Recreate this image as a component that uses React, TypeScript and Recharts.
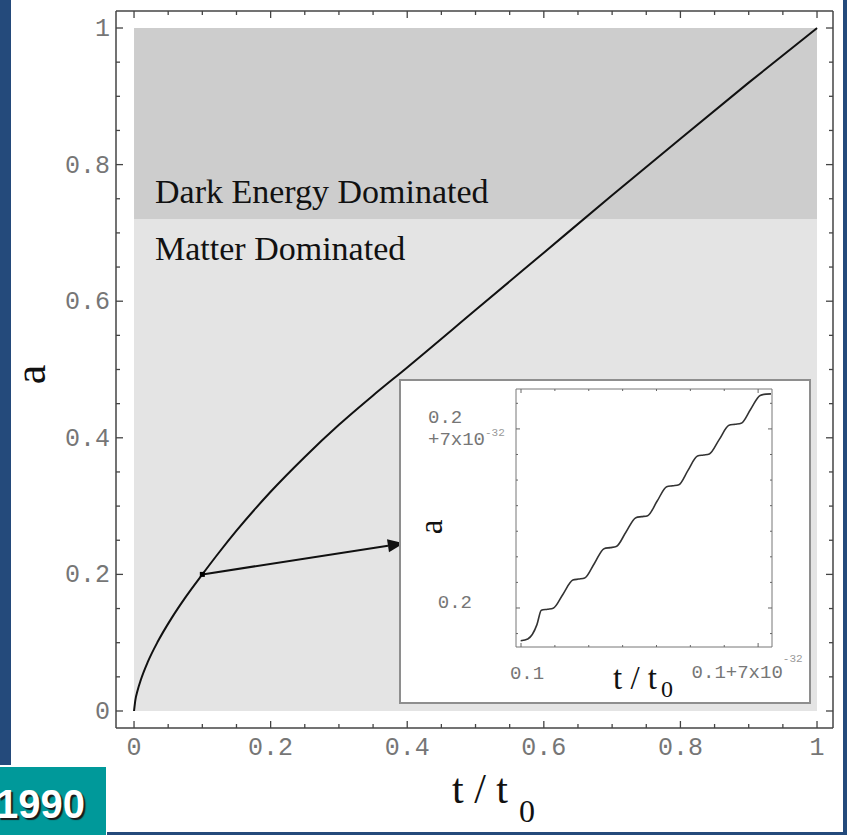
import React from "react";
import {
  LineChart,
  Line,
  XAxis,
  YAxis,
  ReferenceArea,
  ReferenceLine,
  ReferenceDot,
  Label
} from "recharts";

// scale factor a versus t/t0
const mainT = [0, 0.002, 0.005, 0.01, 0.02, 0.035, 0.055, 0.075, 0.1, 0.125, 0.15, 0.2, 0.25, 0.3, 0.35, 0.4, 0.5, 0.6, 0.7, 0.8, 0.9, 1];
const mainA = [0, 0.0164, 0.0294, 0.0458, 0.0715, 0.102, 0.136, 0.166, 0.2, 0.2328, 0.264, 0.321, 0.372, 0.419, 0.462, 0.503, 0.587, 0.671, 0.755, 0.838, 0.92, 1];

// inset: offsets from t/t0 = 0.1 and a = 0.2, in units of 1e-32
const insetT = [-0.01, 0.2, 0.47, 0.6, 0.78, 0.95, 1.24, 1.53, 1.7, 1.88, 2.17, 2.45, 2.63, 2.81, 3.1, 3.39, 3.56, 3.74, 4.02, 4.3, 4.48, 4.66, 4.93, 5.21, 5.39, 5.56, 5.85, 6.14, 6.32, 6.5, 6.78, 7.06, 7.24, 7.38];
const insetA = [-1.28, -1.21, -0.65, -0.09, -0.05, -0.01, 0.54, 1.09, 1.13, 1.17, 1.75, 2.32, 2.36, 2.4, 2.97, 3.53, 3.57, 3.61, 4.18, 4.74, 4.78, 4.82, 5.38, 5.94, 5.98, 6.02, 6.58, 7.14, 7.18, 7.22, 7.77, 8.31, 8.36, 8.37];

const frameTicks = [0, 0.05, 0.1, 0.15, 0.2, 0.25, 0.3, 0.35, 0.4, 0.45, 0.5, 0.55, 0.6, 0.65, 0.7, 0.75, 0.8, 0.85, 0.9, 0.95, 1];
const majorTicks = [0, 0.2, 0.4, 0.6, 0.8, 1];
const majorLabels = ["0", "0.2", "0.4", "0.6", "0.8", "1"];

const insetTicksX = [0, 1, 2, 3, 4, 5, 6, 7];
const insetTicksY = [-1, 0, 1, 2, 3, 4, 5, 6, 7, 8];

const matterBand = [0, 0.72];
const darkBand = [0.72, 1];
const zoomPoint = [0.1, 0.2];
const arrowTip = [0.395, 0.2455];

const mainData = mainT.map((t, i) => ({ t, a: mainA[i] }));
const insetData = insetT.map((t, i) => ({ t, a: insetA[i] }));

const FRAME = "#444";
const MONO = "'Liberation Mono', 'DejaVu Sans Mono', monospace";
const SERIF = "'Liberation Serif', 'Times New Roman', serif";
const TICK_TEXT = "#767676";

// plot box heights, used to mirror the bottom ticks onto the top frame
const MAIN_PLOT_H = 717;
const INSET_PLOT_H = 258;

const majorIndex = (v: number) => majorTicks.findIndex((m) => Math.abs(m - v) < 1e-9);

const BottomTick = ({ x, y, payload }: any) => {
  const i = majorIndex(payload.value);
  const len = i >= 0 ? 7 : 4;
  const top = y - MAIN_PLOT_H;
  return (
    <g>
      <line x1={x} x2={x} y1={y} y2={y - len} stroke={FRAME} strokeWidth={1.3} />
      <line x1={x} x2={x} y1={top} y2={top + len} stroke={FRAME} strokeWidth={1.3} />
      {i >= 0 && (
        <text x={x} y={y + 27} textAnchor="middle" fontFamily={MONO} fontSize={25} fill={TICK_TEXT}>
          {majorLabels[i]}
        </text>
      )}
    </g>
  );
};

const LeftTick = ({ x, y, payload }: any) => {
  const i = majorIndex(payload.value);
  return (
    <g>
      <line x1={x} x2={x + (i >= 0 ? 7 : 4)} y1={y} y2={y} stroke={FRAME} strokeWidth={1.3} />
      {i >= 0 && (
        <text x={x - 6} y={y + 8} textAnchor="end" fontFamily={MONO} fontSize={25} fill={TICK_TEXT}>
          {majorLabels[i]}
        </text>
      )}
    </g>
  );
};

const RightTick = ({ x, y, payload }: any) => (
  <line x1={x} x2={x - (majorIndex(payload.value) >= 0 ? 7 : 4)} y1={y} y2={y} stroke={FRAME} strokeWidth={1.3} />
);

// inset ticks
const InsetBottomTick = ({ x, y, payload }: any) => {
  const v = payload.value;
  const len = v === 0 || v === 7 ? 4 : 2;
  const top = y - INSET_PLOT_H;
  return (
    <g>
      <line x1={x} x2={x} y1={y} y2={y - len} stroke="#666" />
      <line x1={x} x2={x} y1={top} y2={top + len} stroke="#666" />
      {v === 0 && (
        <text x={x + 6} y={y + 32} textAnchor="middle" fontFamily={MONO} fontSize={19} fill={TICK_TEXT}>
          0.1
        </text>
      )}
      {v === 7 && (
        <text x={x - 11} y={y + 31} textAnchor="middle" fontFamily={MONO} fontSize={19} fill={TICK_TEXT}>
          0.1+7x10
          <tspan dy={-16} fontSize={11} fill="#999">-32</tspan>
        </text>
      )}
    </g>
  );
};

const InsetLeftTick = ({ x, y, payload }: any) => {
  const v = payload.value;
  const major = v === 0 || v === 7;
  return (
    <g>
      <line x1={x} x2={x + (major ? 4 : 2)} y1={y} y2={y} stroke="#666" />
      {v === 0 && (
        <text x={x - 44} y={y} textAnchor="end" fontFamily={MONO} fontSize={19} fill={TICK_TEXT}>
          0.2
        </text>
      )}
      {v === 7 && (
        <g>
          <text x={x - 88} y={y - 6} fontFamily={MONO} fontSize={19} fill={TICK_TEXT}>
            0.2
          </text>
          <text x={x - 88} y={y + 16} fontFamily={MONO} fontSize={19} fill={TICK_TEXT}>
            +7x10
            <tspan dy={-9} fontSize={11} fill="#999">-32</tspan>
          </text>
        </g>
      )}
    </g>
  );
};

const InsetRightTick = ({ x, y, payload }: any) => (
  <line x1={x} x2={x - (payload.value === 0 || payload.value === 7 ? 4 : 2)} y1={y} y2={y} stroke="#666" />
);

const RegionLabel = ({ viewBox, text, fromBottom, dy }: any) => {
  const baseline = fromBottom ? viewBox.y + viewBox.height - dy : viewBox.y + dy;
  return (
    <text x={viewBox.x + 21} y={baseline} fontFamily={SERIF} fontSize={34} fill="#111">
      {text}
    </text>
  );
};

const ArrowShape = (props: any) => {
  const { x1, y1, x2, y2 } = props;
  const ang = Math.atan2(y2 - y1, x2 - x1);
  const len = 16;
  const half = 6.5;
  const bx = x2 - len * Math.cos(ang);
  const by = y2 - len * Math.sin(ang);
  const px = -Math.sin(ang) * half;
  const py = Math.cos(ang) * half;
  return (
    <g>
      <line x1={x1} y1={y1} x2={bx} y2={by} stroke="#111" strokeWidth={2} />
      <polygon points={`${x2},${y2} ${bx + px},${by + py} ${bx - px},${by - py}`} fill="#111" />
    </g>
  );
};

const SquareDot = ({ cx, cy }: any) => <rect x={cx - 2.5} y={cy - 2.5} width={5} height={5} fill="#000" />;

const App: React.FC = () => {
  return (
    <div
      style={{
        position: "absolute",
        left: 0,
        top: 0,
        width: 847,
        height: 835,
        overflow: "hidden",
        background: "#fff"
      }}
    >
      <div style={{ position: "absolute", left: 0, top: 0 }}>
        <LineChart
          width={847}
          height={835}
          data={mainData}
          margin={{ top: 10, right: 13, bottom: 106, left: 115 }}
        >
          <ReferenceArea
            x1={0}
            x2={1}
            y1={matterBand[0]}
            y2={matterBand[1]}
            fill="#e4e4e4"
            fillOpacity={1}
            stroke="none"
            label={<RegionLabel text="Matter Dominated" dy={41} />}
          />
          <ReferenceArea
            x1={0}
            x2={1}
            y1={darkBand[0]}
            y2={darkBand[1]}
            fill="#cdcdcd"
            fillOpacity={1}
            stroke="none"
            label={<RegionLabel text="Dark Energy Dominated" fromBottom dy={16} />}
          />
          <XAxis
            dataKey="t"
            type="number"
            domain={[-0.0264, 1.0234]}
            allowDataOverflow
            ticks={frameTicks}
            interval={0}
            height={1}
            tickSize={0}
            tickMargin={0}
            tick={BottomTick}
            tickLine={false}
            axisLine={{ stroke: FRAME, strokeWidth: 1.5 }}
          >
            <Label
              content={({ viewBox }: any) => (
                <text
                  x={viewBox.x + 336}
                  y={viewBox.y + 75}
                  fontFamily={SERIF}
                  fontSize={42}
                  fill="#111"
                >
                  t / t
                  <tspan dx={11} dy={19} fontSize={32}>0</tspan>
                </text>
              )}
            />
          </XAxis>
          <XAxis
            xAxisId="top"
            orientation="top"
            dataKey="t"
            type="number"
            domain={[-0.0264, 1.0234]}
            allowDataOverflow
            height={1}
            tick={false}
            tickLine={false}
            axisLine={{ stroke: FRAME, strokeWidth: 1.5 }}
          />
          <YAxis
            type="number"
            domain={[-0.0249, 1.0249]}
            allowDataOverflow
            ticks={frameTicks}
            interval={0}
            width={1}
            tickSize={0}
            tickMargin={0}
            tick={LeftTick}
            tickLine={false}
            axisLine={{ stroke: FRAME, strokeWidth: 1.5 }}
          >
            <Label
              content={({ viewBox }: any) => {
                const x = viewBox.x + viewBox.width - 71;
                const y = viewBox.y + viewBox.height / 2 + 5;
                return (
                  <text
                    x={x}
                    y={y}
                    transform={`rotate(-90, ${x}, ${y})`}
                    textAnchor="middle"
                    fontFamily={SERIF}
                    fontSize={44}
                    fill="#111"
                  >
                    a
                  </text>
                );
              }}
            />
          </YAxis>
          <YAxis
            yAxisId="right"
            orientation="right"
            type="number"
            domain={[-0.0249, 1.0249]}
            allowDataOverflow
            ticks={frameTicks}
            interval={0}
            width={1}
            tickSize={0}
            tickMargin={0}
            tick={RightTick}
            tickLine={false}
            axisLine={{ stroke: FRAME, strokeWidth: 1.5 }}
          />
          <Line
            type="monotone"
            dataKey="a"
            stroke="#111"
            strokeWidth={2}
            dot={false}
            isAnimationActive={false}
          />
          <ReferenceLine
            segment={[
              { x: zoomPoint[0], y: zoomPoint[1] },
              { x: arrowTip[0], y: arrowTip[1] }
            ]}
            shape={ArrowShape}
          />
          <ReferenceDot x={zoomPoint[0]} y={zoomPoint[1]} r={3} shape={SquareDot} />
        </LineChart>
      </div>

      <div
        style={{
          position: "absolute",
          left: 399,
          top: 379,
          width: 412,
          height: 325,
          boxSizing: "border-box",
          border: "2px solid #8e8e8e",
          background: "#fff"
        }}
      >
        <LineChart
          width={408}
          height={321}
          data={insetData}
          margin={{ top: 7, right: 36, bottom: 54, left: 114 }}
        >
          <XAxis
            dataKey="t"
            type="number"
            domain={[-0.148, 7.41]}
            allowDataOverflow
            ticks={insetTicksX}
            interval={0}
            height={1}
            tickSize={0}
            tickMargin={0}
            tick={InsetBottomTick}
            tickLine={false}
            axisLine={{ stroke: "#777", strokeWidth: 1 }}
          >
            <Label
              content={({ viewBox }: any) => (
                <text
                  x={viewBox.x + 97}
                  y={viewBox.y + 42}
                  fontFamily={SERIF}
                  fontSize={33}
                  fill="#111"
                >
                  t / t
                  <tspan dx={4} dy={8} fontSize={24}>0</tspan>
                </text>
              )}
            />
          </XAxis>
          <XAxis
            xAxisId="top"
            orientation="top"
            dataKey="t"
            type="number"
            domain={[-0.148, 7.41]}
            allowDataOverflow
            height={1}
            tick={false}
            tickLine={false}
            axisLine={{ stroke: "#777", strokeWidth: 1 }}
          />
          <YAxis
            type="number"
            domain={[-1.525, 8.56]}
            allowDataOverflow
            ticks={insetTicksY}
            interval={0}
            width={1}
            tickSize={0}
            tickMargin={0}
            tick={InsetLeftTick}
            tickLine={false}
            axisLine={{ stroke: "#777", strokeWidth: 1 }}
          >
            <Label
              content={({ viewBox }: any) => {
                const x = viewBox.x + viewBox.width - 74;
                const y = viewBox.y + viewBox.height / 2 + 9;
                return (
                  <text
                    x={x}
                    y={y}
                    transform={`rotate(-90, ${x}, ${y})`}
                    textAnchor="middle"
                    fontFamily={SERIF}
                    fontSize={33}
                    fill="#111"
                  >
                    a
                  </text>
                );
              }}
            />
          </YAxis>
          <YAxis
            yAxisId="right"
            orientation="right"
            type="number"
            domain={[-1.525, 8.56]}
            allowDataOverflow
            ticks={insetTicksY}
            interval={0}
            width={1}
            tickSize={0}
            tickMargin={0}
            tick={InsetRightTick}
            tickLine={false}
            axisLine={{ stroke: "#777", strokeWidth: 1 }}
          />
          <Line
            type="monotone"
            dataKey="a"
            stroke="#333"
            strokeWidth={1.6}
            dot={false}
            isAnimationActive={false}
          />
        </LineChart>
      </div>

      {/* slide decoration */}
      <div style={{ position: "absolute", left: 0, top: 0, width: 11, height: 765, background: "#244a7b" }} />
      <div style={{ position: "absolute", left: 843, top: 0, width: 4, height: 835, background: "#244a7b" }} />
      <div style={{ position: "absolute", left: 107, top: 832, width: 740, height: 3, background: "#244a7b" }} />
      <div
        style={{
          position: "absolute",
          left: 0,
          top: 767,
          width: 106,
          height: 68,
          background: "#00999a"
        }}
      >
        <div
          style={{
            position: "absolute",
            right: 21,
            top: 17,
            lineHeight: "40px",
            fontSize: 40,
            fontWeight: "bold",
            fontFamily: "'Liberation Sans', Arial, sans-serif",
            color: "#fff",
            textShadow: "2px 2px 1px #1a1a1a",
            whiteSpace: "nowrap"
          }}
        >
          1990
        </div>
      </div>
    </div>
  );
};

export default App;
